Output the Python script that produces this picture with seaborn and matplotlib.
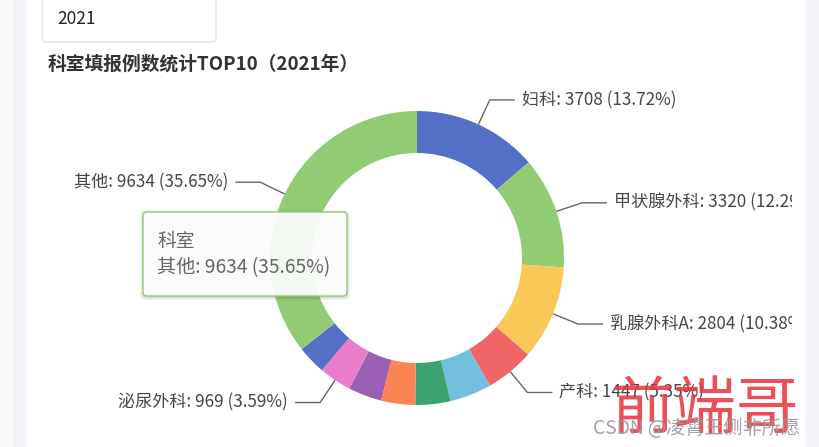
import numpy as np
import matplotlib
matplotlib.use("Agg")
import matplotlib.pyplot as plt
from matplotlib.patches import FancyBboxPatch, Rectangle
import seaborn as sns

# ---------------- data ----------------
departments = ["妇科", "甲状腺外科", "乳腺外科A", "产科", "科室5", "科室6",
               "科室7", "科室8", "泌尿外科", "科室10", "其他"]
counts = [3708, 3320, 2804, 1447, 1245, 1038, 1012, 993, 969, 853, 9634]
label_shown = [True, True, True, True, False, False, False, False, True, False, True]
slice_colors = ["#5470c6", "#91cc75", "#fac858", "#ee6666", "#73c0de", "#3ba272",
                "#fc8452", "#9a60b4", "#ea7ccc", "#5470c6", "#91cc75"]
title_text = "科室填报例数统计TOP10（2021年）"
year_option = "2021"
tooltip_title = "科室"
tooltip_index = 10
watermark_big = "前端哥"
watermark_small = "CSDN @凌霄王侧非所愿"

# ---------------- style ----------------
sns.set_theme(style="white")
plt.rcParams["font.family"] = ["Noto Sans CJK SC", "DejaVu Sans"]

W, H = 820, 447
fig = plt.figure(figsize=(W / 100, H / 100), dpi=100)
fig.patch.set_facecolor("white")
ax = fig.add_axes([0, 0, 1, 1])

cx, cy, R, ring = 417, 258, 147, 42
palette = sns.color_palette(slice_colors)
wedges, _ = ax.pie(counts, colors=palette, startangle=-90, counterclock=True,
                   center=(cx, cy), radius=R, frame=True,
                   wedgeprops=dict(width=ring, linewidth=0))
ax.set_xlim(0, W)
ax.set_ylim(H, 0)
ax.set_aspect("auto")
ax.axis("off")

# page background strips
ax.add_patch(Rectangle((0, 0), 13, H, facecolor="#fafafb", edgecolor="none", zorder=0))
ax.add_patch(Rectangle((13, 0), 14, H, facecolor="#f2f2f7", edgecolor="none", zorder=0))

# labels
total = float(sum(counts))
cum = 0.0
for name, v, show in zip(departments, counts, label_shown):
    mid = (cum + v / 2.0) / total * 2 * np.pi
    cum += v
    if not show:
        continue
    s, c = np.sin(mid), np.cos(mid)
    sx, sy = cx + R * s, cy - R * c
    ex, ey = cx + (R + 27) * s, cy - (R + 27) * c
    side = 1 if s >= 0 else -1
    hx = ex + side * 25
    ax.plot([sx, ex, hx], [sy, ey, ey], color="#666666", lw=1, zorder=3,
            solid_capstyle="butt")
    ax.text(hx + side * 7, ey, f"{name}: {v} ({v / total * 100:.2f}%)",
            ha="left" if side > 0 else "right", va="center",
            fontsize=12.3, color="#464646", zorder=3)

# right side: card edge + page strip (clips long labels)
ax.add_patch(Rectangle((792, 0), 13, H, facecolor="white", edgecolor="none", zorder=5))
ax.add_patch(Rectangle((805, 0), 15, H, facecolor="#f2f2f7", edgecolor="none", zorder=5))

# title
ax.text(48, 64, title_text, fontsize=13.5, fontweight="bold", color="#333333",
        ha="left", va="center", zorder=4)

# year dropdown
ax.add_patch(FancyBboxPatch((42, -10), 174, 52, boxstyle="round,pad=0,rounding_size=4",
                            facecolor="white", edgecolor="#e4e4e8", lw=1, zorder=4))
ax.text(57, 19, year_option, fontsize=12.5, color="#222222", ha="left", va="center", zorder=5)

# tooltip
for k, a in [(3, 0.04), (2, 0.05), (1, 0.06)]:
    ax.add_patch(FancyBboxPatch((143 - k, 212 - k + 1), 204 + 2 * k, 84 + 2 * k,
                                boxstyle="round,pad=0,rounding_size=5",
                                facecolor=(0, 0, 0, a), edgecolor="none", zorder=6))
ax.add_patch(FancyBboxPatch((143, 212), 204, 84, boxstyle="round,pad=0,rounding_size=4",
                            facecolor=(1, 1, 1, 0.92), edgecolor=slice_colors[tooltip_index],
                            lw=1, zorder=7))
tv = counts[tooltip_index]
ax.text(157, 241, tooltip_title, fontsize=13.5, color="#666666", ha="left", va="center", zorder=8)
ax.text(157, 268, f"{departments[tooltip_index]}: {tv} ({tv / total * 100:.2f}%)",
        fontsize=13.8, color="#666666", ha="left", va="center", zorder=8)

# watermark
ax.text(706, 410, watermark_big, fontsize=45, color="#e8303a", alpha=0.85,
        ha="center", va="center", fontweight="light", zorder=9)
ax.text(593, 429, watermark_small, fontsize=13.8, color="#9a9a9a", alpha=0.9,
        ha="left", va="center", zorder=9)

fig.savefig("out.png", dpi=100, facecolor="white")
